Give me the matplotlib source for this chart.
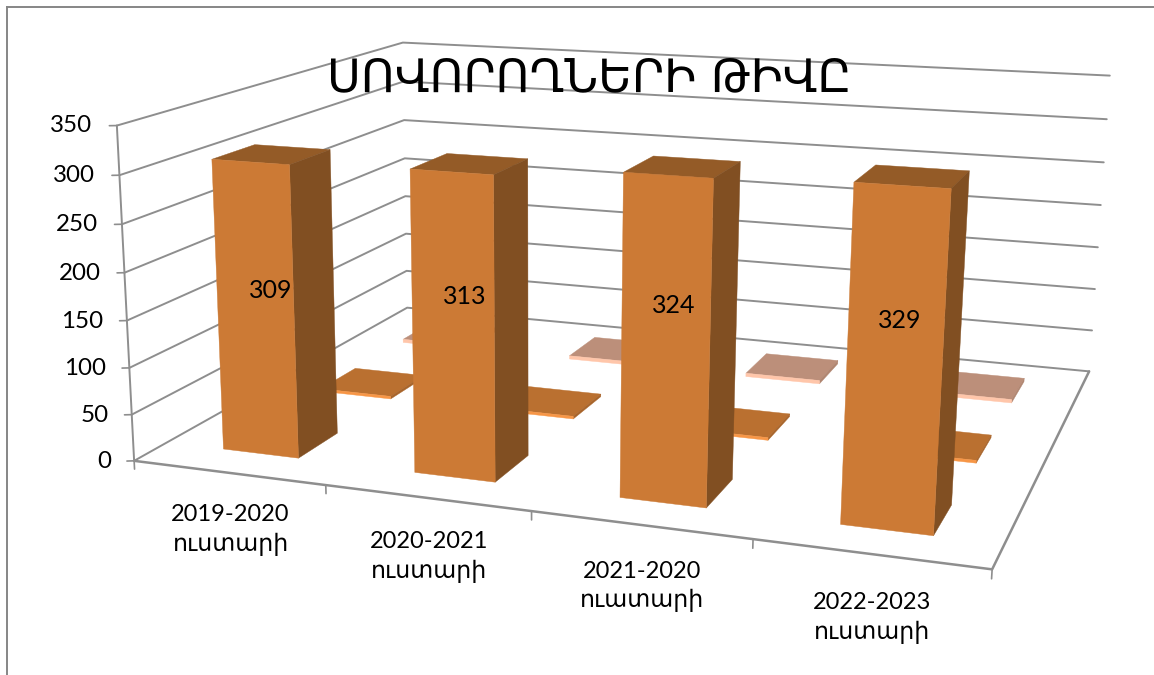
import numpy as np
import matplotlib
matplotlib.use("Agg")
import matplotlib.pyplot as plt
from matplotlib.lines import Line2D
from mpl_toolkits.mplot3d.art3d import Poly3DCollection, Line3DCollection

W, H = 1154, 675

# ---- data ----
title = "ՍՈՎՈՐՈՂՆԵՐԻ ԹԻՎԸ"
categories = ["2019-2020\nուստարի", "2020-2021\nուստարի", "2021-2020\nուատարի", "2022-2023\nուստարի"]
series_1 = [309, 313, 324, 329]
series_2 = [3, 3, 3, 3]
series_3 = [4, 4, 4, 4]
value_ticks = [0, 50, 100, 150, 200, 250, 300, 350]

# ---- styles ----
GRID = "#8e8e8e"
TEXT_FONT = ["Lato", "DejaVu Sans"]
S1 = dict(front="#cc7a35", side="#814f22", top="#945b27")
S2 = dict(front="#f79646", side="#a8642a", top="#ba7030")
S3 = dict(front="#ffc6aa", side="#b08570", top="#bc8f7a")
BAR_WIDTH = 0.4
BAR_DEPTH = 0.4
N_SERIES = 3
VMAX = value_ticks[-1]
N = len(categories)
label_lift = [10, 20, 24, 27]

# camera calibration: world corners of the chart box -> reference pixels
calib_world = np.array([[0, 0, 0], [N, 0, 0], [0, N_SERIES, 0], [N, N_SERIES, 0],
                        [0, 0, VMAX], [0, N_SERIES, VMAX], [N, N_SERIES, VMAX]], float)
calib_px = np.array([[136, 458], [992, 572], [405, 311], [1090, 368],
                     [115, 126], [405, 41], [1109, 77]], float)


def fit_camera(world, px):
    rows = []
    for (x, y, z), (u, v) in zip(world, px):
        rows.append([x, y, z, 1, 0, 0, 0, 0, -u*x, -u*y, -u*z, -u])
        rows.append([0, 0, 0, 0, x, y, z, 1, -v*x, -v*y, -v*z, -v])
    _, _, vt = np.linalg.svd(np.array(rows))
    P = vt[-1].reshape(3, 4)
    if P[2, 3] < 0:
        P = -P
    return P / P[2, 3]


P = fit_camera(calib_world, calib_px)

fig = plt.figure(figsize=(W/100, H/100), dpi=100, facecolor="white")
ax = fig.add_axes([0, 0, 1, 1], projection="3d")
ax.set_axis_off()
ax.computed_zorder = False


def get_proj():
    # pixel (top-left origin) -> display -> axes 2D data
    flip = np.array([[1, 0, 0], [0, -1, H], [0, 0, 1]], float)
    A = ax.transData.inverted().get_matrix() @ flip
    Q = A @ P
    depth = np.array([0.001, 0.1, 0.0001, 0.1])
    return np.vstack([Q[0], Q[1], depth, Q[2]])


ax.get_proj = get_proj


def line3d(xs, ys, zs, lw=1.2, z=1):
    seg = [list(zip(xs, ys, zs))]
    ax.add_collection3d(Line3DCollection(seg, colors=GRID, linewidths=lw, zorder=z,
                                         clip_on=False, capstyle="round"))


def bar(xc, yc, h, colors, z):
    x0, x1 = xc - BAR_WIDTH/2, xc + BAR_WIDTH/2
    y0, y1 = yc - BAR_DEPTH/2, yc + BAR_DEPTH/2
    faces = [
        ([(x0, y0, h), (x1, y0, h), (x1, y1, h), (x0, y1, h)], colors["top"]),
        ([(x1, y0, 0), (x1, y1, 0), (x1, y1, h), (x1, y0, h)], colors["side"]),
        ([(x0, y0, 0), (x1, y0, 0), (x1, y0, h), (x0, y0, h)], colors["front"]),
    ]
    for verts, col in faces:
        ax.add_collection3d(Poly3DCollection([verts], facecolors=col, edgecolors=col,
                                             linewidths=0.3, zorder=z, clip_on=False))


# walls: gridlines
for v in value_ticks:
    line3d([0, 0, N], [0, N_SERIES, N_SERIES], [v, v, v], lw=1.4)
    line3d([0, -0.03], [0, -0.014], [v, v], lw=1.2)
    ax.text(-0.0975, -0.045, v, str(v), ha="right", va="center",
            fontsize=17.4, family=TEXT_FONT, color="black", zorder=20)
# left axis and floor
line3d([0, 0], [0, 0], [0, VMAX], lw=1.4)
line3d([0, N, N], [0, 0, N_SERIES], [0, 0, 0], lw=1.8)
for i in range(N + 1):
    line3d([i, i], [0, 0], [0, -9], lw=1.2)

# series, back to front
for i in range(N):
    bar(i + 0.5, 2.5, series_3[i], S3, 5)
for i in range(N):
    bar(i + 0.5, 1.5, series_2[i], S2, 6)
for i in range(N):
    bar(i + 0.5, 0.5, series_1[i], S1, 7)
    ax.text(i + 0.475, 0.5, series_1[i]/2 + label_lift[i], str(series_1[i]), ha="center", va="center",
            fontsize=18, family=TEXT_FONT, color="black", zorder=20)
    ax.text(i + 0.5 + 0.006*i, 0, -62, categories[i], ha="center", va="center", ma="center",
            fontsize=17, family=TEXT_FONT, color="black", linespacing=1.42, zorder=20)

fig.text(589/W, 1 - 79/H, title, ha="center", va="center", fontsize=33.3,
         family=["DejaVu Sans"], color="black")

# frame of the slide (top and left only)
fig.add_artist(Line2D([6.5/W, 6.5/W], [0, 1 - 6.5/H], color="#868686", lw=1.4))
fig.add_artist(Line2D([6.5/W, 1], [1 - 6.5/H, 1 - 6.5/H], color="#868686", lw=1.4))

fig.savefig("out.png", dpi=100, facecolor="white")
